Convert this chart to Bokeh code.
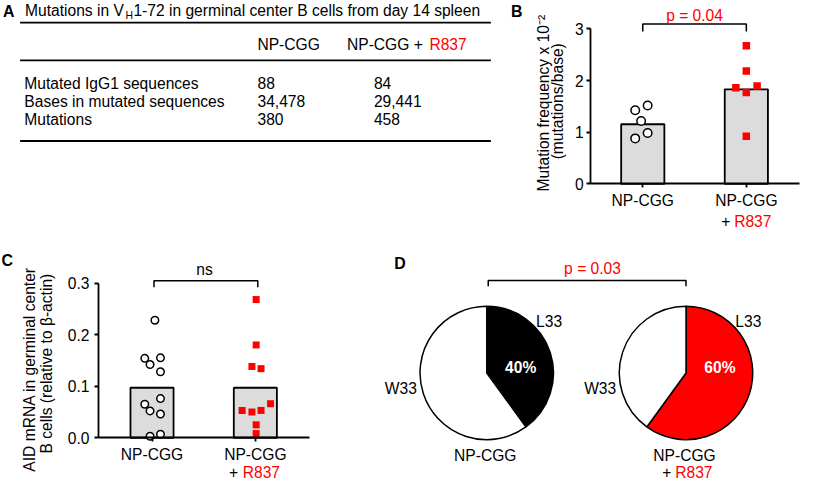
import math
from bokeh.plotting import figure
from bokeh.models import Range1d, FixedTicker, NumeralTickFormatter
from bokeh.layouts import column, row
from bokeh.embed import file_html
from bokeh.resources import INLINE
from bokeh.core.properties import value

# ---------------- data ----------------
groups = ["NP-CGG", "NP-CGG + R837"]
treatment = "R837"

table_title = ["Mutations in V", "H", "1-72 in germinal center B cells from day 14 spleen"]
table_rows = ["Mutated IgG1 sequences", "Bases in mutated sequences", "Mutations"]
table_np_cgg = [88, 34478, 380]
table_r837 = [84, 29441, 458]

b_mean = [1.155, 1.83]
b_np_cgg = [1.425, 1.519, 1.219, 0.986, 0.881]
b_np_cgg_dx = [-0.073, 0.047, -0.016, 0.047, -0.073]
b_r837 = [2.674, 2.186, 1.862, 1.894, 1.768, 0.924]
b_r837_dx = [0.0, 0.0, -0.101, 0.104, 0.0, 0.0]
b_yticks = [0, 1, 2, 3]
b_ylabel = ["Mutation frequency x 10\u207b\u00b2", "(mutations/base)"]
b_pvalue = "p = 0.04"

c_mean = [0.097, 0.097]
c_np_cgg = [0.228, 0.154, 0.155, 0.142, 0.128, 0.076, 0.065, 0.052, 0.046, 0.003, 0.007]
c_np_cgg_dx = [0.028, -0.070, 0.082, -0.019, 0.082, 0.082, -0.070, -0.019, 0.082, -0.019, 0.082]
c_r837 = [0.268, 0.180, 0.138, 0.134, 0.066, 0.053, 0.050, 0.053, 0.025, 0.008]
c_r837_dx = [0.008, 0.008, -0.033, 0.055, 0.147, -0.128, -0.033, 0.055, 0.008, 0.008]
c_yticks = [0, 0.1, 0.2, 0.3]
c_ylabel = ["AID mRNA in germinal center", "B cells (relative to \u03b2-actin)"]
c_pvalue = "ns"

d_slices = ["L33", "W33"]
d_l33_percent = [40, 60]
d_l33_colors = ["black", "red"]
d_pvalue = "p = 0.03"

# ---------------- geometry / style ----------------
TW, TH = 801, 482
SX, SY = TW / 817.0, TH / 498.0
H_TOP = round(258 * SY)
H_BOT = TH - H_TOP
W_A = round(520 * SX)
W_B = TW - W_A
W_C = round(340 * SX)
W_D = TW - W_C
FSZ = 16 * (SX + SY) / 2
FS = f"{FSZ:.1f}px"
FSB = f"{FSZ * 1.02:.1f}px"
RED = "#ff0000"
BAR = "#dcdcdc"
FONT = "Liberation Sans"


def base_fig(w, h, xr, yr, axes=True):
    kw = {} if axes else dict(x_axis_type=None, y_axis_type=None)
    p = figure(width=w, height=h, x_range=Range1d(*xr), y_range=Range1d(*yr),
               toolbar_location=None, output_backend="svg", min_border=0, **kw)
    p.outline_line_color = None
    p.grid.visible = False
    return p


def txt(p, x, y, s, align="left", color="black", size=FS, style="normal", angle=0.0):
    p.text(x=[x], y=[y], text=[s], text_font=value(FONT), text_font_size=value(size),
           text_color=color, text_align=align, text_baseline="middle",
           text_font_style=style, angle=angle)


def style_axes(p, yticks, standoff, x_at, x_end):
    for ax in (p.xaxis[0], p.yaxis[0]):
        ax.axis_line_width = 1.8
        ax.axis_line_color = "black"
        ax.major_tick_line_width = 1.8
        ax.major_tick_line_color = "black"
        ax.major_tick_out = 4
        ax.major_tick_in = 0
        ax.minor_tick_out = 0
        ax.minor_tick_in = 0
        ax.major_label_text_font = FONT
        ax.major_label_text_font_size = FS
        ax.major_label_text_color = "black"
    ya = p.yaxis[0]
    ya.fixed_location = x_at
    ya.ticker = FixedTicker(ticks=yticks)
    ya.bounds = (yticks[0], yticks[-1])
    ya.major_label_standoff = standoff
    xa = p.xaxis[0]
    xa.fixed_location = 0
    xa.bounds = (x_at, x_end)
    xa.ticker = FixedTicker(ticks=[1, 2])
    base = groups[1].split(" + ")[0]
    xa.major_label_overrides = {1: groups[0], 2: base}
    xa.major_label_standoff = 4


def dot_bar_panel(p, means, g1, g1dx, g2, g2dx, csize, ssize):
    p.vbar(x=[1, 2], top=means, bottom=0, width=0.417, fill_color=BAR,
           line_color="black", line_width=1.8)
    p.scatter(x=[1 + d for d in g1dx], y=g1, marker="circle", size=csize,
              fill_color="white", line_color="black", line_width=1.5)
    p.scatter(x=[2 + d for d in g2dx], y=g2, marker="square", size=ssize,
              fill_color=RED, line_color=None)


# ---------------- panel A (table) ----------------
pA = base_fig(W_A, H_TOP, (0, 520), (0, 258), axes=False)
def ya(r):
    return 258 - r

txt(pA, 2.5, ya(11), "A", style="bold", size=FSB)
txt(pA, 25, ya(10.8), table_title[0])
txt(pA, 127.5, ya(15.5), table_title[1], size=f"{FSZ * 0.67:.1f}px")
txt(pA, 135.5, ya(10.8), table_title[2])
for ry in [22.8, 61.7, 145.0]:
    pA.segment(x0=[20], y0=[ya(ry)], x1=[500], y1=[ya(ry)], line_color="black", line_width=1.8)
txt(pA, 262, ya(45.8), groups[0])
txt(pA, 353.3, ya(45.8), groups[1].replace(treatment, "").rstrip())
txt(pA, 437.3, ya(45.8), treatment, color=RED)
for i, name in enumerate(table_rows):
    yy = ya(85.3 + 18.6 * i)
    txt(pA, 24.3, yy, name)
    txt(pA, 262, yy, f"{table_np_cgg[i]:,}")
    txt(pA, 380.7, yy, f"{table_r837[i]:,}")

# ---------------- panel B ----------------
def xb(r):
    return 1 + (r - 655.0) / 105.7
def yb(r):
    return (189.3 - r) / 53.33

pB = base_fig(W_B, H_TOP, (xb(520), xb(817)), (yb(258), yb(0)))
style_axes(pB, b_yticks, 3, xb(601.7), xb(815))
dot_bar_panel(pB, b_mean, b_np_cgg, b_np_cgg_dx, b_r837, b_r837_dx, 8.5, 7.5)
pB.line(x=[1, 1, 2, 2], y=[yb(32), yb(24.3), yb(24.3), yb(32)], line_color="black", line_width=1.5)
txt(pB, 1.5, yb(15), b_pvalue, align="center", color=RED)
txt(pB, xb(735), yb(228), "+")
txt(pB, xb(748.3), yb(228), treatment, color=RED)
txt(pB, xb(520.5), yb(11), "B", style="bold", size=FSB)
txt(pB, xb(554), yb(106), b_ylabel[0], align="center", angle=math.pi / 2)
txt(pB, xb(567.5), yb(104), b_ylabel[1], align="center", angle=math.pi / 2)

# ---------------- panel C ----------------
def xc(r):
    return 1 + (r - 154.7) / 105.5
def yc(r):
    return (451.7 - r) / 533.3

pC = base_fig(W_C, H_BOT, (xc(0), xc(340)), (yc(498), yc(258)))
style_axes(pC, c_yticks, 5, xc(100), xc(315))
pC.yaxis[0].formatter = NumeralTickFormatter(format="0.0")
dot_bar_panel(pC, c_mean, c_np_cgg, c_np_cgg_dx, c_r837, c_r837_dx, 7.5, 7)
pC.line(x=[xc(156.7), xc(156.7), xc(262.7), xc(262.7)], y=[yc(296), yc(289.3), yc(289.3), yc(296)],
        line_color="black", line_width=1.5)
txt(pC, xc(208.3), yc(277.6), c_pvalue, align="center")
txt(pC, xc(233.3), yc(487.5), "+")
txt(pC, xc(247.3), yc(487.5), treatment, color=RED)
txt(pC, xc(1), yc(268.5), "C", style="bold", size=FSB)
txt(pC, xc(30), yc(381), c_ylabel[0], align="center", angle=math.pi / 2)
txt(pC, xc(46.5), yc(375), c_ylabel[1], align="center", angle=math.pi / 2)

# ---------------- panel D (pies) ----------------
pD = base_fig(W_D, H_BOT, (340, 817), (0, 240), axes=False)
def yd(r):
    return 498 - r

cxs = [496.2, 699.3]
cy = yd(384.7)
R = 68
for i, pct in enumerate(d_l33_percent):
    a0 = math.pi / 2
    a1 = a0 - 2 * math.pi * pct / 100.0
    a2 = a0 - 2 * math.pi
    pD.wedge(x=[cxs[i], cxs[i]], y=[cy, cy], radius=R,
             start_angle=[a0, a1], end_angle=[a1, a2], direction="clock",
             fill_color=[d_l33_colors[i], "white"], line_color="black", line_width=1.5)
    txt(pD, cxs[i] + 34.6, cy + 5.7, f"{pct}%", align="center", color="white", style="bold")
    txt(pD, cxs[i] + 63.5, cy + 53.7, d_slices[0], align="center")
    txt(pD, cxs[i] - 87.5, cy - 16.3, d_slices[1], align="center")
    txt(pD, cxs[i] - 1.5, yd(470), groups[0], align="center")
txt(pD, 675, yd(487.5), "+")
txt(pD, 688.3, yd(487.5), treatment, color=RED)
pD.line(x=[cxs[0] + 1.5, cxs[0] + 1.5, cxs[1], cxs[1]], y=[yd(295), yd(289), yd(289), yd(295)],
        line_color="black", line_width=1.5)
txt(pD, 604, yd(277), d_pvalue, align="center", color=RED)
txt(pD, 402, yd(271), "D", style="bold", size=FSB)

layout = column(row(pA, pB), row(pC, pD))
open("out.html", "w").write(file_html(layout, INLINE))
